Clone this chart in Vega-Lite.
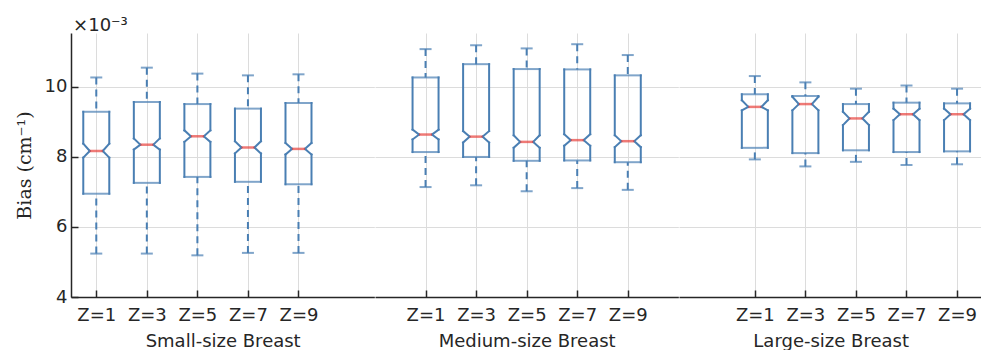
{
  "$schema": "https://vega.github.io/schema/vega-lite/v6.json",
  "padding": {"left": 15, "top": 17, "right": 0, "bottom": 0},
  "spacing": 0,
  "title": {"text": "×10⁻³", "anchor": "start", "frame": "bounds", "font": "DejaVu Sans", "fontSize": 18, "fontWeight": "normal", "color": "#262626", "dx": 58, "offset": -2},
  "data": {"values": [
    {"group": "Small", "z": "Z=1", "lo": 5.24, "q1": 6.95, "nlo": 7.98, "med": 8.17, "nhi": 8.38, "q3": 9.29, "hi": 10.27},
    {"group": "Small", "z": "Z=3", "lo": 5.24, "q1": 7.26, "nlo": 8.21, "med": 8.35, "nhi": 8.53, "q3": 9.57, "hi": 10.55},
    {"group": "Small", "z": "Z=5", "lo": 5.19, "q1": 7.43, "nlo": 8.43, "med": 8.59, "nhi": 8.76, "q3": 9.51, "hi": 10.38},
    {"group": "Small", "z": "Z=7", "lo": 5.26, "q1": 7.29, "nlo": 8.10, "med": 8.27, "nhi": 8.45, "q3": 9.38, "hi": 10.33},
    {"group": "Small", "z": "Z=9", "lo": 5.26, "q1": 7.22, "nlo": 8.07, "med": 8.23, "nhi": 8.40, "q3": 9.54, "hi": 10.36},
    {"group": "Medium", "z": "Z=1", "lo": 7.14, "q1": 8.14, "nlo": 8.50, "med": 8.64, "nhi": 8.78, "q3": 10.27, "hi": 11.08},
    {"group": "Medium", "z": "Z=3", "lo": 7.19, "q1": 8.00, "nlo": 8.41, "med": 8.58, "nhi": 8.74, "q3": 10.65, "hi": 11.19},
    {"group": "Medium", "z": "Z=5", "lo": 7.02, "q1": 7.89, "nlo": 8.26, "med": 8.43, "nhi": 8.62, "q3": 10.51, "hi": 11.10},
    {"group": "Medium", "z": "Z=7", "lo": 7.11, "q1": 7.90, "nlo": 8.32, "med": 8.48, "nhi": 8.65, "q3": 10.50, "hi": 11.22},
    {"group": "Medium", "z": "Z=9", "lo": 7.06, "q1": 7.85, "nlo": 8.28, "med": 8.45, "nhi": 8.62, "q3": 10.33, "hi": 10.91},
    {"group": "Large", "z": "Z=1", "lo": 7.93, "q1": 8.26, "nlo": 9.33, "med": 9.43, "nhi": 9.62, "q3": 9.79, "hi": 10.31},
    {"group": "Large", "z": "Z=3", "lo": 7.73, "q1": 8.11, "nlo": 9.33, "med": 9.51, "nhi": 9.72, "q3": 9.74, "hi": 10.13},
    {"group": "Large", "z": "Z=5", "lo": 7.86, "q1": 8.19, "nlo": 8.91, "med": 9.10, "nhi": 9.29, "q3": 9.51, "hi": 9.95},
    {"group": "Large", "z": "Z=7", "lo": 7.77, "q1": 8.14, "nlo": 9.05, "med": 9.22, "nhi": 9.38, "q3": 9.55, "hi": 10.04},
    {"group": "Large", "z": "Z=9", "lo": 7.79, "q1": 8.16, "nlo": 9.05, "med": 9.22, "nhi": 9.38, "q3": 9.53, "hi": 9.95}
  ]},
  "resolve": {"scale": {"x": "independent", "y": "shared"}, "axis": {"x": "independent", "y": "independent"}},
  "hconcat": [
    {
      "width": 303.33, "height": 264,
      "transform": [{"filter": "datum.group === 'Small'"}],
      "encoding": {
        "x": {"field": "z", "type": "ordinal", "sort": ["Z=1","Z=3","Z=5","Z=7","Z=9"], "scale": {"type": "point", "padding": 1, "align": 0.25}, "axis": {"title": "Small-size Breast"}}
      },
      "layer": [
        {"mark": {"type": "rule", "strokeDash": [7, 5], "strokeCap": "butt"}, "encoding": {"y": {"field": "hi", "type": "quantitative", "scale": {"domain": [4, 11.54], "nice": false, "zero": false}, "axis": {"values": [4, 6, 8, 10], "title": "Bias (cm⁻¹)"}}, "y2": {"field": "q3"}}},
        {"mark": {"type": "rule", "strokeDash": [7, 5], "strokeCap": "butt"}, "encoding": {"y": {"field": "lo", "type": "quantitative"}, "y2": {"field": "q1"}}},
        {"mark": {"type": "tick", "size": 12}, "encoding": {"y": {"field": "hi", "type": "quantitative"}}},
        {"mark": {"type": "tick", "size": 12}, "encoding": {"y": {"field": "lo", "type": "quantitative"}}},
        {"mark": {"type": "tick", "size": 28}, "encoding": {"y": {"field": "q3", "type": "quantitative"}}},
        {"mark": {"type": "tick", "size": 28}, "encoding": {"y": {"field": "q1", "type": "quantitative"}}},
        {"mark": {"type": "rule", "xOffset": -13}, "encoding": {"y": {"field": "q1", "type": "quantitative"}, "y2": {"field": "nlo"}}},
        {"mark": {"type": "rule", "xOffset": -13}, "encoding": {"y": {"field": "nhi", "type": "quantitative"}, "y2": {"field": "q3"}}},
        {"mark": {"type": "rule", "xOffset": 13}, "encoding": {"y": {"field": "q1", "type": "quantitative"}, "y2": {"field": "nlo"}}},
        {"mark": {"type": "rule", "xOffset": 13}, "encoding": {"y": {"field": "nhi", "type": "quantitative"}, "y2": {"field": "q3"}}},
        {"mark": {"type": "rule", "xOffset": -13, "x2Offset": -6.5}, "encoding": {"x2": {"field": "z"}, "y": {"field": "nlo", "type": "quantitative"}, "y2": {"field": "med"}}},
        {"mark": {"type": "rule", "xOffset": -13, "x2Offset": -6.5}, "encoding": {"x2": {"field": "z"}, "y": {"field": "nhi", "type": "quantitative"}, "y2": {"field": "med"}}},
        {"mark": {"type": "rule", "xOffset": 13, "x2Offset": 6.5}, "encoding": {"x2": {"field": "z"}, "y": {"field": "nlo", "type": "quantitative"}, "y2": {"field": "med"}}},
        {"mark": {"type": "rule", "xOffset": 13, "x2Offset": 6.5}, "encoding": {"x2": {"field": "z"}, "y": {"field": "nhi", "type": "quantitative"}, "y2": {"field": "med"}}},
        {"mark": {"type": "tick", "size": 13, "thickness": 2.5, "color": "#e8413c"}, "encoding": {"y": {"field": "med", "type": "quantitative"}}}
      ]
    },
    {
      "width": 303.33, "height": 264,
      "transform": [{"filter": "datum.group === 'Medium'"}],
      "encoding": {
        "x": {"field": "z", "type": "ordinal", "sort": ["Z=1","Z=3","Z=5","Z=7","Z=9"], "scale": {"type": "point", "padding": 1, "align": 0.5}, "axis": {"title": "Medium-size Breast"}}
      },
      "layer": [
        {"mark": {"type": "rule", "strokeDash": [7, 5], "strokeCap": "butt"}, "encoding": {"y": {"field": "hi", "type": "quantitative", "scale": {"domain": [4, 11.54], "nice": false, "zero": false}, "axis": {"values": [4, 6, 8, 10], "labels": false, "ticks": false, "domain": false, "title": null}}, "y2": {"field": "q3"}}},
        {"mark": {"type": "rule", "strokeDash": [7, 5], "strokeCap": "butt"}, "encoding": {"y": {"field": "lo", "type": "quantitative"}, "y2": {"field": "q1"}}},
        {"mark": {"type": "tick", "size": 12}, "encoding": {"y": {"field": "hi", "type": "quantitative"}}},
        {"mark": {"type": "tick", "size": 12}, "encoding": {"y": {"field": "lo", "type": "quantitative"}}},
        {"mark": {"type": "tick", "size": 28}, "encoding": {"y": {"field": "q3", "type": "quantitative"}}},
        {"mark": {"type": "tick", "size": 28}, "encoding": {"y": {"field": "q1", "type": "quantitative"}}},
        {"mark": {"type": "rule", "xOffset": -13}, "encoding": {"y": {"field": "q1", "type": "quantitative"}, "y2": {"field": "nlo"}}},
        {"mark": {"type": "rule", "xOffset": -13}, "encoding": {"y": {"field": "nhi", "type": "quantitative"}, "y2": {"field": "q3"}}},
        {"mark": {"type": "rule", "xOffset": 13}, "encoding": {"y": {"field": "q1", "type": "quantitative"}, "y2": {"field": "nlo"}}},
        {"mark": {"type": "rule", "xOffset": 13}, "encoding": {"y": {"field": "nhi", "type": "quantitative"}, "y2": {"field": "q3"}}},
        {"mark": {"type": "rule", "xOffset": -13, "x2Offset": -6.5}, "encoding": {"x2": {"field": "z"}, "y": {"field": "nlo", "type": "quantitative"}, "y2": {"field": "med"}}},
        {"mark": {"type": "rule", "xOffset": -13, "x2Offset": -6.5}, "encoding": {"x2": {"field": "z"}, "y": {"field": "nhi", "type": "quantitative"}, "y2": {"field": "med"}}},
        {"mark": {"type": "rule", "xOffset": 13, "x2Offset": 6.5}, "encoding": {"x2": {"field": "z"}, "y": {"field": "nlo", "type": "quantitative"}, "y2": {"field": "med"}}},
        {"mark": {"type": "rule", "xOffset": 13, "x2Offset": 6.5}, "encoding": {"x2": {"field": "z"}, "y": {"field": "nhi", "type": "quantitative"}, "y2": {"field": "med"}}},
        {"mark": {"type": "tick", "size": 13, "thickness": 2.5, "color": "#e8413c"}, "encoding": {"y": {"field": "med", "type": "quantitative"}}}
      ]
    },
    {
      "width": 303.33, "height": 264,
      "transform": [{"filter": "datum.group === 'Large'"}],
      "encoding": {
        "x": {"field": "z", "type": "ordinal", "sort": ["Z=1","Z=3","Z=5","Z=7","Z=9"], "scale": {"type": "point", "padding": 1, "align": 0.75}, "axis": {"title": "Large-size Breast"}}
      },
      "layer": [
        {"mark": {"type": "rule", "strokeDash": [7, 5], "strokeCap": "butt"}, "encoding": {"y": {"field": "hi", "type": "quantitative", "scale": {"domain": [4, 11.54], "nice": false, "zero": false}, "axis": {"values": [4, 6, 8, 10], "labels": false, "ticks": false, "domain": false, "title": null}}, "y2": {"field": "q3"}}},
        {"mark": {"type": "rule", "strokeDash": [7, 5], "strokeCap": "butt"}, "encoding": {"y": {"field": "lo", "type": "quantitative"}, "y2": {"field": "q1"}}},
        {"mark": {"type": "tick", "size": 12}, "encoding": {"y": {"field": "hi", "type": "quantitative"}}},
        {"mark": {"type": "tick", "size": 12}, "encoding": {"y": {"field": "lo", "type": "quantitative"}}},
        {"mark": {"type": "tick", "size": 28}, "encoding": {"y": {"field": "q3", "type": "quantitative"}}},
        {"mark": {"type": "tick", "size": 28}, "encoding": {"y": {"field": "q1", "type": "quantitative"}}},
        {"mark": {"type": "rule", "xOffset": -13}, "encoding": {"y": {"field": "q1", "type": "quantitative"}, "y2": {"field": "nlo"}}},
        {"mark": {"type": "rule", "xOffset": -13}, "encoding": {"y": {"field": "nhi", "type": "quantitative"}, "y2": {"field": "q3"}}},
        {"mark": {"type": "rule", "xOffset": 13}, "encoding": {"y": {"field": "q1", "type": "quantitative"}, "y2": {"field": "nlo"}}},
        {"mark": {"type": "rule", "xOffset": 13}, "encoding": {"y": {"field": "nhi", "type": "quantitative"}, "y2": {"field": "q3"}}},
        {"mark": {"type": "rule", "xOffset": -13, "x2Offset": -6.5}, "encoding": {"x2": {"field": "z"}, "y": {"field": "nlo", "type": "quantitative"}, "y2": {"field": "med"}}},
        {"mark": {"type": "rule", "xOffset": -13, "x2Offset": -6.5}, "encoding": {"x2": {"field": "z"}, "y": {"field": "nhi", "type": "quantitative"}, "y2": {"field": "med"}}},
        {"mark": {"type": "rule", "xOffset": 13, "x2Offset": 6.5}, "encoding": {"x2": {"field": "z"}, "y": {"field": "nlo", "type": "quantitative"}, "y2": {"field": "med"}}},
        {"mark": {"type": "rule", "xOffset": 13, "x2Offset": 6.5}, "encoding": {"x2": {"field": "z"}, "y": {"field": "nhi", "type": "quantitative"}, "y2": {"field": "med"}}},
        {"mark": {"type": "tick", "size": 13, "thickness": 2.5, "color": "#e8413c"}, "encoding": {"y": {"field": "med", "type": "quantitative"}}}
      ]
    }
  ],
  "config": {
    "view": {"stroke": null},
    "rule": {"color": "#4a7fb3", "strokeWidth": 2, "strokeCap": "square"},
    "tick": {"color": "#4a7fb3", "thickness": 2},
    "axis": {"gridColor": "#dcdcdc", "gridWidth": 1, "domainColor": "#262626", "domainWidth": 1.5, "tickColor": "#262626", "tickWidth": 1.5, "labelColor": "#262626", "titleColor": "#262626"},
    "axisX": {"grid": true, "tickSize": -7, "labelAngle": 0, "labelFont": "DejaVu Sans", "labelFontSize": 18, "labelPadding": 16, "titleFont": "DejaVu Sans", "titleFontSize": 18, "titleFontWeight": "normal", "titlePadding": 8},
    "axisY": {"grid": true, "tickSize": -7, "labelFont": "DejaVu Sans", "labelFontSize": 18, "labelPadding": 11, "titleFont": "DejaVu Serif", "titleFontSize": 19, "titleFontWeight": "normal", "titlePadding": 10}
  }
}
